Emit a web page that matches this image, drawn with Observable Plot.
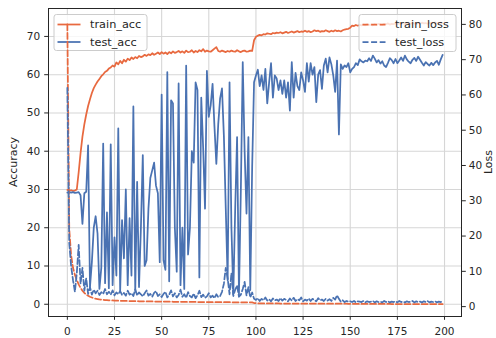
<!DOCTYPE html>
<html>
<head>
<meta charset="utf-8">
<script src="https://cdn.jsdelivr.net/npm/d3@7"></script>
<script src="https://cdn.jsdelivr.net/npm/@observablehq/plot@0.6"></script>
<style>
  html, body { margin: 0; padding: 0; background: white; overflow: hidden; }
  #chart { width: 496px; height: 338px; overflow: hidden; }
</style>
</head>
<body>
<div id="chart"></div>
<script>
// ---- data ----
const trainAcc = [
  29.9, 29.7, 29.8, 29.6, 29.7, 30.0, 34.5, 39.5, 43.8, 47.0,
  49.6, 51.8, 53.6, 55.2, 56.5, 57.4, 58.2, 58.9, 59.6, 60.1,
  60.7, 61.0, 61.6, 61.9, 62.4, 62.1, 63.2, 62.7, 63.6, 63.0,
  63.9, 63.4, 64.2, 63.8, 64.5, 64.1, 64.6, 64.3, 64.9, 64.6,
  64.8, 65.2, 64.9, 65.3, 65.1, 65.6, 65.2, 65.5, 65.8, 65.4,
  65.9, 65.5, 65.8, 65.4, 65.9, 65.6, 66.1, 65.7, 65.9, 66.2,
  65.8, 66.1, 65.7, 66.3, 65.9, 66.0, 66.4, 65.8, 66.2, 65.9,
  66.4, 66.1, 66.7, 66.0, 66.3, 66.1, 66.0, 66.4, 66.8, 67.2,
  66.2, 66.0, 66.3, 66.1, 65.9, 66.2, 66.0, 66.3, 66.1, 66.0,
  66.4, 66.1, 65.9, 66.2, 66.3, 66.0, 66.1, 66.3, 66.2, 69.0,
  69.9, 70.2, 70.4, 70.3, 70.6, 70.5, 70.8, 70.7, 70.6, 70.9,
  70.8, 71.0, 70.9, 71.1, 70.8, 71.0, 71.2, 70.9, 71.1, 71.3,
  71.0, 71.2, 71.4, 71.1, 71.3, 71.2, 71.5, 71.2, 71.4, 71.1,
  71.3, 71.6, 71.4, 71.5, 71.2, 71.4, 71.3, 71.6, 71.4, 71.2,
  71.5, 71.3, 71.6, 71.4, 71.5, 71.3, 71.6, 71.8, 71.9, 72.0,
  72.3, 72.8, 72.7, 73.0, 72.8, 73.0, 72.9, 73.1, 72.9, 73.2,
  73.0, 73.1, 72.9, 73.2, 73.0, 73.3, 73.1, 73.0, 73.3, 73.2,
  73.4, 73.1, 73.3, 73.2, 73.5, 73.2, 73.4, 73.3, 73.5, 73.2,
  73.4, 73.6, 73.3, 73.5, 73.4, 73.2, 73.5, 73.3, 73.6, 73.4,
  73.5, 73.3, 73.6, 73.4, 73.5, 73.7, 73.4, 73.5, 73.6, 73.5
];
const testAcc = [
  29.2, 29.3, 29.2, 29.3, 29.1, 29.2, 29.3, 28.5, 21.0, 29.0,
  29.4, 41.5, 4.5, 11.0, 20.0, 23.0, 18.5, 4.0, 9.5, 42.0,
  5.5, 24.0, 4.2, 41.8, 5.0, 17.5, 7.5, 46.0, 3.5, 22.0,
  12.0, 30.0, 5.0, 22.5, 7.5, 51.7, 3.5, 32.0, 4.5, 20.0,
  39.0, 10.0, 11.5, 25.0, 33.0, 35.0, 37.0, 31.0, 29.0, 11.0,
  54.8, 11.5, 9.0, 60.7, 6.0, 53.3, 52.5, 20.0, 8.5, 57.7,
  5.0, 20.0, 4.0, 62.4, 13.0, 20.0, 40.0, 37.0, 58.0, 56.0,
  7.0, 54.0, 41.0, 25.0, 61.0, 49.0, 52.0, 57.6, 46.5, 36.7,
  47.0, 53.8, 56.4, 44.0, 25.0, 6.3, 58.0, 20.0, 2.6, 25.0,
  43.7, 2.6, 30.0, 63.3, 40.0, 23.7, 43.7, 3.7, 36.0, 58.0,
  59.8, 61.3, 57.0, 59.8, 56.0, 61.5, 52.5, 58.0, 63.0, 54.0,
  59.8, 59.0, 56.0, 58.5, 55.0, 58.5, 54.0, 58.0, 50.6, 63.3,
  54.0, 60.5, 57.0, 56.0, 60.6, 58.5, 55.5, 63.0, 58.2, 63.0,
  60.0, 62.0, 52.8, 60.0, 61.2, 56.3, 62.4, 64.2, 60.6, 64.5,
  62.7, 59.8, 55.5, 63.7, 44.4, 62.7, 61.5, 62.4, 62.0, 63.0,
  60.6, 61.5, 62.0, 63.0, 62.5, 64.0, 63.5, 63.2, 63.7, 63.5,
  64.3, 63.6, 65.0, 64.2, 63.2, 63.8, 62.9, 63.5, 62.4, 62.0,
  63.1, 64.3, 63.8, 63.0, 64.1, 63.0, 63.7, 64.5, 63.6, 65.0,
  64.0, 63.4, 63.0, 63.9, 64.4, 63.6, 64.7, 63.9, 63.1, 62.4,
  63.3, 62.8, 62.4, 63.1, 62.5, 63.2, 63.6, 62.6, 64.0, 65.2
];
const trainLoss = [
  80.0, 22.0, 14.5, 11.0, 9.0, 7.5, 6.3, 5.3, 4.5, 3.9,
  3.4, 3.1, 2.8, 2.6, 2.4, 2.25, 2.15, 2.05, 1.98, 1.92,
  1.87, 1.83, 1.80, 1.77, 1.74, 1.71, 1.69, 1.67, 1.65, 1.63,
  1.62, 1.60, 1.59, 1.57, 1.56, 1.55, 1.54, 1.53, 1.52, 1.51,
  1.50, 1.49, 1.48, 1.47, 1.47, 1.46, 1.45, 1.44, 1.44, 1.43,
  1.42, 1.42, 1.41, 1.40, 1.40, 1.39, 1.38, 1.38, 1.37, 1.37,
  1.36, 1.35, 1.35, 1.34, 1.34, 1.33, 1.33, 1.32, 1.32, 1.31,
  1.31, 1.30, 1.30, 1.29, 1.29, 1.28, 1.28, 1.28, 1.27, 1.27,
  1.26, 1.26, 1.26, 1.25, 1.25, 1.24, 1.24, 1.24, 1.23, 1.23,
  1.23, 1.22, 1.22, 1.22, 1.21, 1.21, 1.21, 1.20, 1.20, 1.02,
  0.96, 0.94, 0.93, 0.92, 0.92, 0.91, 0.91, 0.90, 0.90, 0.90,
  0.89, 0.89, 0.89, 0.88, 0.88, 0.88, 0.88, 0.87, 0.87, 0.87,
  0.87, 0.86, 0.86, 0.86, 0.86, 0.86, 0.85, 0.85, 0.85, 0.85,
  0.85, 0.85, 0.84, 0.84, 0.84, 0.84, 0.84, 0.84, 0.83, 0.83,
  0.83, 0.83, 0.83, 0.83, 0.83, 0.82, 0.82, 0.82, 0.82, 0.81,
  0.79, 0.78, 0.77, 0.77, 0.77, 0.77, 0.76, 0.76, 0.76, 0.76,
  0.76, 0.76, 0.76, 0.75, 0.75, 0.75, 0.75, 0.75, 0.75, 0.75,
  0.75, 0.75, 0.74, 0.74, 0.74, 0.74, 0.74, 0.74, 0.74, 0.74,
  0.74, 0.74, 0.74, 0.73, 0.73, 0.73, 0.73, 0.73, 0.73, 0.73,
  0.73, 0.73, 0.73, 0.73, 0.73, 0.72, 0.72, 0.72, 0.72, 0.72
];
const testLoss = [
  62.0, 18.0, 11.5, 7.5, 4.2, 9.5, 17.5, 6.5, 11.0, 4.5,
  8.0, 3.6, 5.5, 3.4, 4.8, 3.8, 4.5, 3.3, 4.1, 3.6,
  5.0, 3.5, 4.2, 3.4, 4.6, 3.2, 4.0, 3.5, 4.4, 3.3,
  3.9, 3.1, 4.5, 3.4, 3.8, 3.0, 4.9, 3.2, 4.0, 3.5,
  2.9, 3.8, 4.6, 3.1, 3.6, 2.8, 3.9, 4.4, 3.0, 3.5,
  2.7, 3.6, 4.2, 2.6, 3.4, 4.6, 2.9, 3.8, 2.6, 3.3,
  4.8, 2.8, 3.5, 2.5, 4.1, 3.0, 2.6, 3.7, 2.4, 3.2,
  4.5, 2.7, 3.4, 2.5, 2.9, 3.8, 2.6, 3.1, 2.4, 3.5,
  2.7, 3.0, 4.2, 6.5, 11.0, 8.0, 3.5, 9.5, 3.0, 4.8,
  6.0, 2.8, 3.4, 5.0, 7.0, 3.2, 5.5, 2.6, 4.0, 2.2,
  1.9, 2.4, 1.6, 2.2, 1.8, 2.6, 1.7, 2.1, 1.5, 2.3,
  1.8, 2.0, 1.6, 2.4, 1.7, 2.2, 1.9, 1.5, 2.3, 1.7,
  2.5, 1.6, 2.1, 1.8, 2.6, 1.5, 2.0, 1.7, 2.3, 1.6,
  2.2, 1.9, 1.5, 2.4, 1.8, 2.0, 1.6, 2.2, 1.7, 2.1,
  1.6, 2.5, 2.0, 3.2, 2.2, 1.4, 1.8, 1.3, 1.6, 1.4,
  1.5, 1.3, 1.6, 1.2, 1.5, 1.4, 1.3, 1.6, 1.2, 1.5,
  1.3, 1.4, 1.6, 1.2, 1.5, 1.3, 1.4, 1.2, 1.6, 1.3,
  1.5, 1.2, 1.4, 1.3, 1.5, 1.2, 1.6, 1.3, 1.4, 1.2,
  1.5, 1.3, 1.4, 1.6, 1.2, 1.5, 1.3, 1.4, 1.2, 1.5,
  1.3, 1.6, 1.2, 1.4, 1.3, 1.5, 1.2, 1.4, 1.3, 1.5
];
const xTicks = [0, 25, 50, 75, 100, 125, 150, 175, 200];
const accTicks = [0, 10, 20, 30, 40, 50, 60, 70];
const lossTicks = [0, 10, 20, 30, 40, 50, 60, 70, 80];
const accLabel = "Accuracy";
const lossLabel = "Loss";
const seriesNames = ["train_acc", "test_acc", "train_loss", "test_loss"];

// ---- styling ----
const ORANGE = "#e8693f";
const BLUE = "#4a72b2";
const DASH = "6,2.6";
const LW = 1.75;

// left axis (accuracy) and right axis (loss) domains, as in matplotlib twinx
const accDomain = [-3.2, 77.3];
const lossDomain = [-2.8, 84.5];
const lossToAcc = v => accDomain[0] + (v - lossDomain[0]) * (accDomain[1] - accDomain[0]) / (lossDomain[1] - lossDomain[0]);
const accToLoss = v => lossDomain[0] + (v - accDomain[0]) * (lossDomain[1] - lossDomain[0]) / (accDomain[1] - accDomain[0]);

const W = 496, H = 338, mL = 48, mR = 35, mT = 8, mB = 22;

const chart = Plot.plot({
  width: W, height: H,
  marginLeft: mL, marginRight: mR, marginTop: mT, marginBottom: mB,
  x: {domain: [-10, 209]},
  y: {domain: accDomain},
  style: {fontFamily: "DejaVu Sans", fontSize: "10.5px", color: "#262626", background: "white"},
  marks: [
    Plot.gridX(xTicks, {stroke: "#d6d6d6", strokeOpacity: 1, strokeWidth: 1.1}),
    Plot.gridY(accTicks, {stroke: "#d6d6d6", strokeOpacity: 1, strokeWidth: 1.1}),
    Plot.line(trainAcc, {x: (d, i) => i, y: d => d, stroke: ORANGE, strokeWidth: LW}),
    Plot.line(testAcc, {x: (d, i) => i, y: d => d, stroke: BLUE, strokeWidth: LW}),
    Plot.line(trainLoss, {x: (d, i) => i, y: d => lossToAcc(d), stroke: ORANGE, strokeWidth: LW, strokeDasharray: DASH}),
    Plot.line(testLoss, {x: (d, i) => i, y: d => lossToAcc(d), stroke: BLUE, strokeWidth: LW, strokeDasharray: DASH}),
    Plot.frame({stroke: "#262626", strokeWidth: 1}),
    Plot.axisX(xTicks, {tickSize: 3.8, tickPadding: 7.5, label: null, stroke: "#262626"}),
    Plot.axisY(accTicks, {anchor: "left", tickSize: 3.8, tickPadding: 4.5, label: null, stroke: "#262626"}),
    Plot.axisY(lossTicks.map(lossToAcc), {anchor: "right", tickSize: 3.8, tickPadding: 3.5, label: null, stroke: "#262626",
      tickFormat: d => String(Math.round(accToLoss(d)))})
  ]
});
document.getElementById("chart").appendChild(chart);

const svg = d3.select(chart);
svg.style("overflow", "hidden");

function makeLegend(x, y, w, h, entries) {
  const g = d3.create("svg:g").attr("text-anchor", "start");
  g.append("rect").attr("x", x).attr("y", y).attr("width", w).attr("height", h)
    .attr("rx", 2.5).attr("fill", "white").attr("fill-opacity", 0.8)
    .attr("stroke", "#cccccc").attr("stroke-width", 1);
  entries.forEach((e, k) => {
    const cy = y + 10 + k * 17.5;
    g.append("line").attr("x1", x + 3.5).attr("x2", x + 26.5).attr("y1", cy).attr("y2", cy)
      .attr("stroke", e.color).attr("stroke-width", LW)
      .attr("stroke-dasharray", e.dash ? DASH : null);
    g.append("text").attr("x", x + 36).attr("y", cy).attr("dy", "0.35em")
      .attr("text-anchor", "start")
      .attr("font-family", "DejaVu Sans").attr("font-size", "11.3px").attr("fill", "#262626")
      .text(e.name);
  });
  return g.node();
}

// left legend belongs to the accuracy axes: it sits under the loss lines
const lineGroups = chart.querySelectorAll('g[aria-label="line"]');
const leftLegend = makeLegend(54, 14.5, 93, 36, [
  {name: seriesNames[0], color: ORANGE, dash: false},
  {name: seriesNames[1], color: BLUE, dash: false}
]);
chart.insertBefore(leftLegend, lineGroups[2]);

const rightLegend = makeLegend(359, 14.5, 97, 37, [
  {name: seriesNames[2], color: ORANGE, dash: true},
  {name: seriesNames[3], color: BLUE, dash: true}
]);
chart.appendChild(rightLegend);

// axis titles
svg.append("text")
  .attr("transform", `translate(17,${(mT + H - mB) / 2}) rotate(-90)`)
  .attr("text-anchor", "middle").attr("font-family", "DejaVu Sans").attr("font-size", "11px")
  .attr("fill", "#262626").text(accLabel);
svg.append("text")
  .attr("transform", `translate(492,${(mT + H - mB) / 2}) rotate(-90)`)
  .attr("text-anchor", "middle").attr("font-family", "DejaVu Sans").attr("font-size", "11px")
  .attr("fill", "#262626").text(lossLabel);
</script>
</body>
</html>
